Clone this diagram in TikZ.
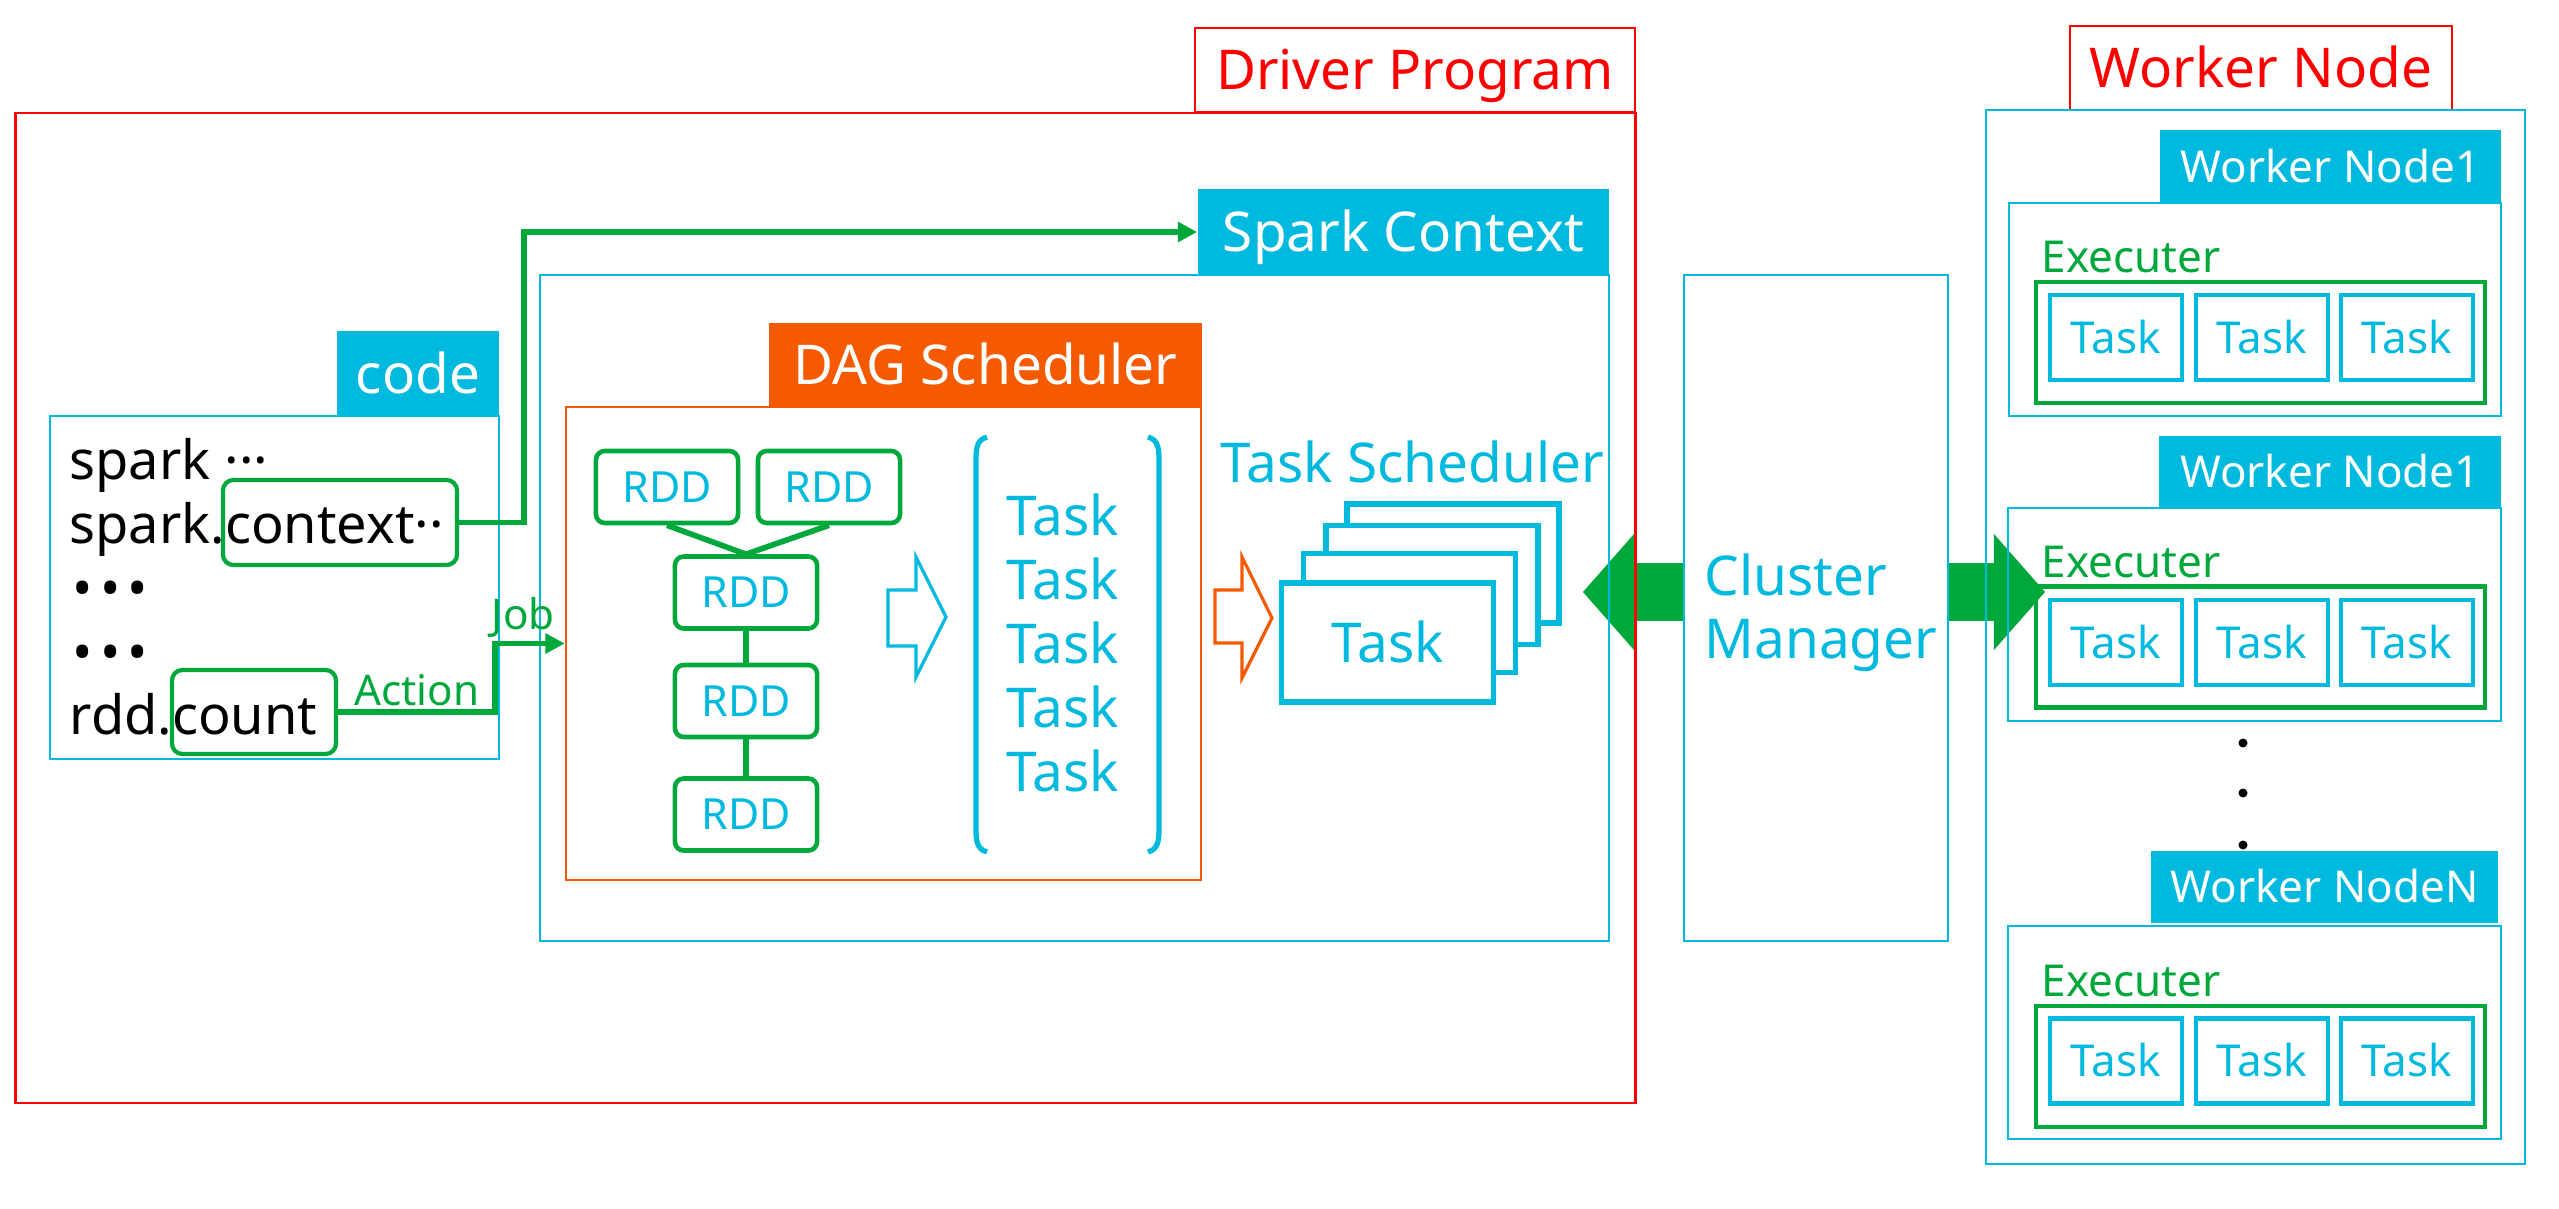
\documentclass[tikz,border=0pt]{standalone}
\usepackage{fontspec}
\setmainfont{Noto Sans}
\usepackage{tikz}
\usetikzlibrary{arrows.meta,backgrounds}

\definecolor{spcyan}{RGB}{0,185,222}
\definecolor{spgreen}{RGB}{0,168,60}
\definecolor{sporange}{RGB}{245,90,0}
\definecolor{spred}{RGB}{255,0,0}

\newcommand{\lblbig}{\fontsize{15.6}{17.9}\selectfont}
\newcommand{\lblsmall}{\fontsize{12.5}{15}\selectfont}

\tikzset{
  container/.style={draw=spcyan, line width=0.6pt, inner sep=0pt},
  header/.style={fill=spcyan, text=white, inner sep=0pt, font=\lblbig, text height=11.1pt, text depth=0pt},
  smallheader/.style={header, font=\lblsmall, text height=8.9pt},
  redlabel/.style={draw=spred, line width=0.6pt, text=spred, inner sep=0pt, font=\lblbig, text height=11.1pt, text depth=0pt},
  rddbox/.style={draw=spgreen, line width=1.3pt, rounded corners=2.5pt, text=spcyan, inner sep=0pt,
    font=\fontsize{12.2}{14}\selectfont, minimum width=1.42cm, minimum height=0.72cm, text height=8.7pt, text depth=0pt},
  rddline/.style={draw=spgreen, line width=1.6pt},
  codebox/.style={draw=spgreen, line width=1.2pt, rounded corners=3pt, inner sep=0pt},
  codetxt/.style={anchor=base west, inner sep=0pt, font=\fontsize{15.4}{18}\selectfont},
  tasktxt/.style={anchor=base west, inner sep=0pt, text=spcyan, font=\lblbig},
  stackbox/.style={draw=spcyan, fill=white, line width=1.5pt, inner sep=0pt, minimum width=2.12cm, minimum height=1.19cm},
  exbox/.style={draw=spgreen, line width=1.3pt, inner sep=0pt, minimum width=4.49cm, minimum height=1.21cm},
  extxt/.style={anchor=base west, inner sep=0pt, text=spgreen, font=\lblsmall},
  wtask/.style={draw=spcyan, line width=1.3pt, inner sep=0pt, minimum width=1.32cm, minimum height=0.85cm,
    text=spcyan, font=\lblsmall, text height=8.9pt, text depth=0pt},
  gline/.style={draw=spgreen, line width=1.6pt, -{Triangle[length=5.5pt,width=5.5pt]}},
  glabel/.style={text=spgreen, inner sep=1pt, font=\fontsize{12}{14}\selectfont},
  bigarrow/.style={draw=spgreen, line width=0.58cm, -{Triangle[length=0.51cm,width=1.16cm,line width=0pt]}},
  hollow/.style={line width=0.9pt, fill=white},
  bracket/.style={draw=spcyan, line width=1.5pt}
}

\begin{document}
\begin{tikzpicture}[x=0.01cm, y=-0.01cm]
  \useasboundingbox (0,0) rectangle (2559,1209);

  % Driver Program
  \node[container, draw=spred, minimum width=16.19cm, minimum height=9.90cm] (driver) at (825.5,608) {};
  \node[redlabel, minimum width=4.40cm, minimum height=0.84cm] (drvlbl) at (1415,70) {Driver Program};

  % Spark Context
  \node[container, minimum width=10.69cm, minimum height=6.66cm] (sparkbox) at (1074.5,608) {};
  \node[header, minimum width=4.11cm, minimum height=0.86cm] (sparkhdr) at (1403.5,232) {Spark Context};

  % codice
  \node[container, minimum width=4.49cm, minimum height=3.43cm] (codebox) at (274.5,587.5) {};
  \node[header, minimum width=1.62cm, minimum height=0.85cm] (codehdr) at (418,373.5) {code};
  \node[codebox, minimum width=2.34cm, minimum height=0.85cm] (ctxbox) at (340,522.5) {};
  \node[codebox, minimum width=1.64cm, minimum height=0.84cm] (cntbox) at (254,712) {};
  \node[codetxt] (line1) at (69,479) {spark ···};
  \node[codetxt] (line2) at (69,543) {spark.context··};
  \node[codetxt] (line3) at (72,607) {•\kern2pt•\kern2pt•};
  \node[codetxt] (line4) at (72,671) {•\kern2pt•\kern2pt•};
  \node[codetxt] (line5) at (69,734) {rdd.count};

  % DAG Scheduler
  \node[container, draw=sporange, minimum width=6.35cm, minimum height=4.73cm] (dagbox) at (883.5,643.5) {};
  \node[header, fill=sporange, minimum width=4.33cm, minimum height=0.84cm] (daghdr) at (985.5,365) {DAG Scheduler};
  \node[rddbox] (rdd1) at (667,487) {RDD};
  \node[rddbox] (rdd2) at (829,487) {RDD};
  \node[rddbox] (rdd3) at (746,592.5) {RDD};
  \node[rddbox] (rdd4) at (746,701) {RDD};
  \node[rddbox] (rdd5) at (746,814.5) {RDD};
  \draw[rddline] (rdd1.south) -- (rdd3.north);
  \draw[rddline] (rdd2.south) -- (rdd3.north);
  \draw[rddline] (rdd3) -- (rdd4);
  \draw[rddline] (rdd4) -- (rdd5);
  \draw[hollow, draw=spcyan] (888,590) -- (916,590) -- (916,557) -- (946,617) -- (916,677) -- (916,646) -- (888,646) -- cycle;

  % elenco dei task
  \draw[bracket] (987,437) .. controls (976,440) and (976,450) .. (976,462) -- (976,827) .. controls (976,839) and (976,849) .. (987,852);
  \draw[bracket] (1148,437) .. controls (1159,440) and (1159,450) .. (1159,462) -- (1159,827) .. controls (1159,839) and (1159,849) .. (1148,852);
  \node[tasktxt] (task1) at (1006,535) {Task};
  \node[tasktxt] (task2) at (1006,599) {Task};
  \node[tasktxt] (task3) at (1006,663) {Task};
  \node[tasktxt] (task4) at (1006,727) {Task};
  \node[tasktxt] (task5) at (1006,791) {Task};
  \draw[hollow, draw=sporange] (1215,590) -- (1242,590) -- (1242,557) -- (1272,618) -- (1242,678) -- (1242,643) -- (1215,643) -- cycle;

  % Task Scheduler
  \node[tasktxt] (tschlbl) at (1220,482) {Task Scheduler};
  \node[stackbox] (stk4) at (1453,563.5) {};
  \node[stackbox] (stk3) at (1432,585) {};
  \node[stackbox] (stk2) at (1409.5,613) {};
  \node[stackbox, text=spcyan, font=\lblbig, text height=11.1pt, text depth=0pt] (stk1) at (1387.5,642.5) {Task};

  % Cluster Manager
  \node[container, minimum width=2.64cm, minimum height=6.66cm] (cluster) at (1816,608) {};
  \node[tasktxt] (cmtxt1) at (1704,595) {Cluster};
  \node[tasktxt] (cmtxt2) at (1704,658) {Manager};

  % Worker Node
  \node[redlabel, minimum width=3.82cm, minimum height=0.84cm] (wlbl) at (2261,68) {Worker Node};
  \node[container, minimum width=5.39cm, minimum height=10.54cm] (wouter) at (2255.5,637) {};

  \node[container, minimum width=4.92cm, minimum height=2.13cm] (wn1box) at (2255,309.5) {};
  \node[smallheader, minimum width=3.41cm, minimum height=0.73cm] (wn1hdr) at (2330.5,166.5) {Worker Node1};
  \node[extxt] (ex1) at (2041,272) {Executer};
  \node[exbox] (ex1box) at (2260.5,342.5) {};
  \node[wtask] (w1t1) at (2116,337.5) {Task};
  \node[wtask] (w1t2) at (2262,337.5) {Task};
  \node[wtask] (w1t3) at (2407,337.5) {Task};

  \node[container, minimum width=4.93cm, minimum height=2.13cm] (wn2box) at (2254.5,614.5) {};
  \node[smallheader, minimum width=3.42cm, minimum height=0.72cm] (wn2hdr) at (2330,472) {Worker Node1};
  \node[extxt] (ex2) at (2041,577) {Executer};
  \node[exbox] (ex2box) at (2260.5,647) {};
  \node[wtask] (w2t1) at (2116,642.5) {Task};
  \node[wtask] (w2t2) at (2262,642.5) {Task};
  \node[wtask] (w2t3) at (2407,642.5) {Task};

  \fill (2243,743) circle[radius=4.5];
  \fill (2243,793) circle[radius=4.5];
  \fill (2243,845) circle[radius=4.5];

  \node[container, minimum width=4.93cm, minimum height=2.13cm] (wnnbox) at (2254.5,1032.5) {};
  \node[smallheader, minimum width=3.47cm, minimum height=0.72cm] (wnnhdr) at (2324.5,887) {Worker NodeN};
  \node[extxt] (exn) at (2041,996) {Executer};
  \node[exbox] (exnbox) at (2260.5,1066.5) {};
  \node[wtask] (wnt1) at (2116,1061) {Task};
  \node[wtask] (wnt2) at (2262,1061) {Task};
  \node[wtask] (wnt3) at (2407,1061) {Task};

  % Disegno delle frecce
  \draw[gline] (ctxbox.east) -- ++(65,0) |- (sparkhdr.west);
  \draw[gline] (cntbox.east) -- node[glabel, above] (actlbl) {Action} ++(157,0)
    |- node[glabel, above, pos=0.7] (joblbl) {Job} (dagbox.west);

  \begin{scope}[on background layer]
    \coordinate (tipL) at (1583,592);
    \coordinate (tipR) at (2045,592);
    \draw[bigarrow] (cluster.west |- tipL) -- (tipL);
    \draw[bigarrow] (cluster.east |- tipR) -- (tipR);
  \end{scope}
\end{tikzpicture}
\end{document}
